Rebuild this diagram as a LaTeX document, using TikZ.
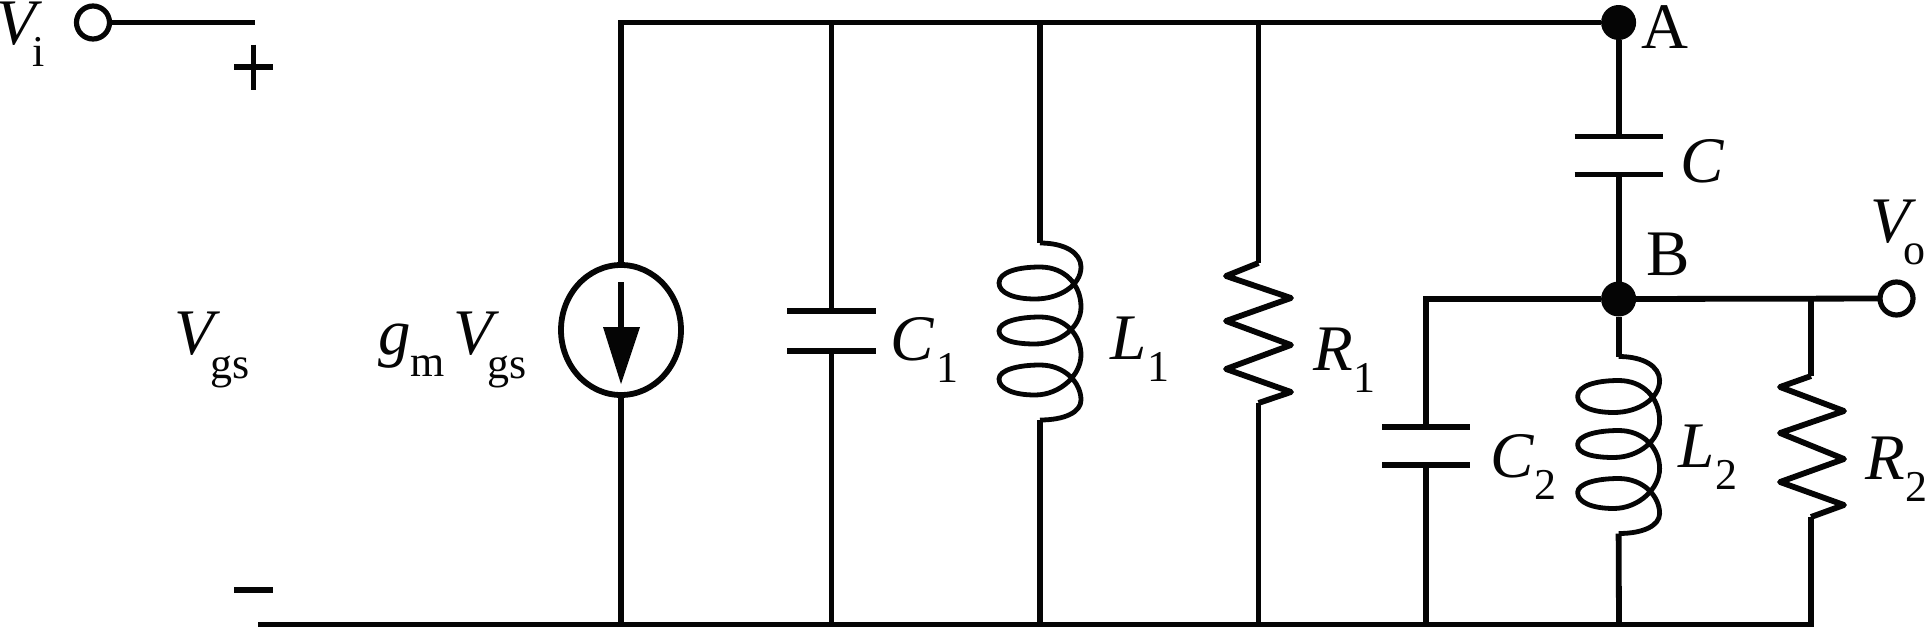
\documentclass[tikz,border=0pt]{standalone}
\usepackage{fontspec}
\setmainfont{Liberation Serif}
\usetikzlibrary{shapes.geometric}
\definecolor{ink}{HTML}{050505}
\newcommand{\mainsize}{\fontsize{65}{70}\selectfont}
\newcommand{\subsize}{\fontsize{44}{48}\selectfont}
% italic main letter + upright subscript
\newcommand{\sublab}[4]{\mainsize{\itshape #1}\hspace{#3pt}\raisebox{-#4pt}{\subsize #2}}
% inductor, origin on the wire, #1 = name prefix, #2 = position
\newcommand{\coil}[2]{%
  \begin{scope}[shift={#2}]
    \coordinate (#1a) at (0,0);
    \coordinate (#1b) at (0,177);
    \draw[coilline] (#1a)
      .. controls (25,0) and (41,10) .. (41,24)
      .. controls (41,42) and (20,56) .. (-5,56)
      .. controls (-26,56) and (-41,50) .. (-41,40)
      .. controls (-41,29) and (-22,24) .. (0,24)
      .. controls (25,24) and (41,42) .. (41,64)
      .. controls (41,84) and (20,101) .. (-5,101)
      .. controls (-26,101) and (-41,97) .. (-41,88)
      .. controls (-41,79) and (-22,74) .. (0,74)
      .. controls (25,74) and (41,92) .. (41,112)
      .. controls (41,132) and (20,152) .. (-5,152)
      .. controls (-26,152) and (-41,146) .. (-41,136)
      .. controls (-41,127) and (-22,122) .. (0,122)
      .. controls (25,122) and (41,140) .. (41,157)
      .. controls (41,169) and (25,177) .. (#1b);
  \end{scope}}
% capacitor: #1 name, #2 x, #3 y upper plate, #4 y lower plate, #5 half width
\newcommand{\capac}[5]{%
  \coordinate (#1a) at (#2,#3);
  \coordinate (#1b) at (#2,#4);
  \draw[wire] (#2-#5,#3) -- (#2+#5,#3);
  \draw[wire] (#2-#5,#4) -- (#2+#5,#4);}
\tikzset{
  wire/.style={line width=5.8pt,draw=ink,line cap=butt,line join=miter},
  zigzag/.style={line width=5.8pt,draw=ink,line cap=butt,line join=round},
  coilline/.style={line width=4.8pt,draw=ink,line join=round},
  lab/.style={inner sep=0pt,outer sep=0pt,anchor=base west,text=ink},
  opendot/.style={circle,draw=ink,line width=5.2pt,fill=white,minimum size=33pt,inner sep=0pt,outer sep=0pt},
  soliddot/.style={circle,fill=ink,minimum size=35pt,inner sep=0pt,outer sep=0pt},
}
\begin{document}
\begin{tikzpicture}[x=1pt,y=-1pt]
\useasboundingbox (0,0) rectangle (1928,627);
% junction and end coordinates
\coordinate (wTopL) at (621,22.5);
\coordinate (wTopC1) at (831.5,22.5);
\coordinate (wTopL1) at (1040,22.5);
\coordinate (wTopR1) at (1258.5,22.5);
\coordinate (wBotL) at (258,624.5);
\coordinate (wBotS) at (621,624.5);
\coordinate (wBotC1) at (831.5,624.5);
\coordinate (wBotL1) at (1040,624.5);
\coordinate (wBotR1) at (1258.5,624.5);
\coordinate (wBotC2) at (1426,624.5);
\coordinate (wBotL2) at (1619,624.5);
\coordinate (wBotR2) at (1811,624.5);
\coordinate (wBotEnd) at (1814,624.5);
\coordinate (inEnd) at (255,22.5);
\coordinate (c2Top) at (1426,299);
\coordinate (r2Top) at (1811,299);
% current source
\node[ellipse,draw=ink,line width=5.8pt,minimum width=120pt,minimum height=130pt,inner sep=0pt,outer sep=0pt] (src) at (621,330) {};
\coordinate (arrA) at (621,282);
\coordinate (arrB) at (621,330);
\coordinate (arrC) at (621,384);
\draw[wire] (arrA) -- (arrB);
\fill[ink] (603,327) -- (640,327) -- (arrC) -- cycle;
% terminals and junction dots
\node[opendot] (vi) at (93,22.5) {};
\node[opendot] (vo) at (1896.5,298.5) {};
\node[soliddot] (A) at (1618.6,22.5) {};
\node[soliddot] (B) at (1618.6,299) {};
% components
\capac{c1}{831.5}{311}{351}{44.5}
\capac{c}{1618.6}{136.5}{174.5}{44}
\capac{c2}{1426}{427}{465}{44}
\coil{l1}{(1040,243)}
\coil{l2}{(1618.6,356.5)}
\coordinate (r1a) at (1258.5,263);
\coordinate (r1b) at (1258.5,403);
\draw[zigzag] (r1a) -- (1226,276) -- (1291,298) -- (1226,321) -- (1291,345) -- (1226,369) -- (1291,392) -- (r1b);
\coordinate (r2a) at (1811,376);
\coordinate (r2b) at (1811,517);
\draw[zigzag] (r2a) -- (1780,387) -- (1844,411) -- (1780,433) -- (1844,459) -- (1780,482) -- (1844,505) -- (r2b);
% wires
\draw[wire] (vi) -- (inEnd);
\draw[wire] (src.north) -- (wTopL) -- (A);
\draw[wire] (src.south) -- (wBotS);
\draw[wire] (wBotL) -- (wBotEnd);
\draw[wire] (wTopC1) -- (c1a);
\draw[wire] (c1b) -- (wBotC1);
\draw[wire] (wTopL1) -- (l1a);
\draw[wire] (l1b) -- (wBotL1);
\draw[wire] (wTopR1) -- (r1a);
\draw[wire] (r1b) -- (wBotR1);
\draw[wire] (A) -- (ca);
\draw[wire] (cb) -- (B);
\draw[wire] (B) -- (l2a);
\draw[wire] (l2b) -- (wBotL2);
\draw[wire] (B) -- (c2Top) -- (c2a);
\draw[wire] (c2b) -- (wBotC2);
\draw[wire] (B) -- (vo);
\draw[wire] (r2Top) -- (r2a);
\draw[wire] (r2b) -- (wBotR2);
% polarity marks
\coordinate (pmA) at (234,67); \coordinate (pmB) at (273,67);
\coordinate (pmC) at (253.5,44.5); \coordinate (pmD) at (253.5,89.5);
\draw[wire] (pmA) -- (pmB);
\draw[wire] (pmC) -- (pmD);
\coordinate (mnA) at (234,590); \coordinate (mnB) at (273,590);
\draw[wire] (mnA) -- (mnB);
% labels
\node[lab] (tVi) at (-3,44.5) {\sublab{V}{i}{-4}{22}};
\node[lab] (tVgs) at (174,354) {\sublab{V}{gs}{-3}{24}};
\node[lab] (tgm) at (378,354) {\sublab{g}{m}{-0.5}{22}\hspace{9pt}\sublab{V}{gs}{-5}{24}};
\node[lab] (tC1) at (890,360) {\sublab{C}{1}{3}{22}};
\node[lab] (tL1) at (1110,359) {\sublab{L}{1}{1}{22}};
\node[lab] (tR1) at (1313,370) {\sublab{R}{1}{1}{22}};
\node[lab] (tA) at (1641,48) {\mainsize A};
\node[lab] (tB) at (1646,275) {\mainsize B};
\node[lab] (tC) at (1680,182) {\mainsize{\itshape C}};
\node[lab] (tVo) at (1870,242) {\sublab{V}{o}{-6}{22}};
\node[lab] (tC2) at (1490,477) {\sublab{C}{2}{1}{22}};
\node[lab] (tL2) at (1678,467) {\sublab{L}{2}{1}{22}};
\node[lab] (tR2) at (1865,479) {\sublab{R}{2}{1}{22}};
\end{tikzpicture}
\end{document}
